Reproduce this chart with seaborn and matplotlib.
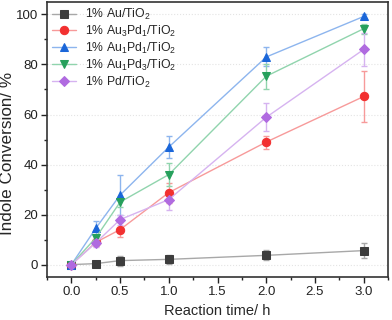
import matplotlib
matplotlib.use('Agg')
import matplotlib.pyplot as plt
from matplotlib.ticker import MultipleLocator
import pandas as pd
import seaborn as sns

# reaction time (h)
time = [0, 0.25, 0.5, 1.0, 2.0, 3.0]

labels = ['1% Au/TiO$_2$', '1% Au$_3$Pd$_1$/TiO$_2$', '1% Au$_1$Pd$_1$/TiO$_2$',
          '1% Au$_1$Pd$_3$/TiO$_2$', '1% Pd/TiO$_2$']

au = [0, 0.4, 1.6, 2.1, 3.7, 5.6]
au3pd1 = [0, 8.9, 14.0, 28.8, 49.0, 67.2]
au1pd1 = [0, 14.5, 27.8, 47.0, 83.0, 99.2]
au1pd3 = [0, 10.7, 25.0, 36.0, 75.3, 94.3]
pd_ = [0, 8.7, 18.0, 26.0, 58.9, 86.0]

au_err = [0.5, 0.8, 2.0, 1.8, 2.0, 3.0]
au3pd1_err = [0.5, 1.5, 3.0, 4.0, 2.6, 10.0]
au1pd1_err = [0.5, 3.0, 8.0, 4.5, 3.8, 1.0]
au1pd3_err = [0.5, 1.5, 2.0, 4.5, 5.0, 2.0]
pd_err = [0.5, 1.5, 2.0, 4.0, 5.5, 6.5]

values = [au, au3pd1, au1pd1, au1pd3, pd_]
errors = [au_err, au3pd1_err, au1pd1_err, au1pd3_err, pd_err]

marker_colors = ['#3d3d3d', '#f23030', '#1a66d9', '#26a05c', '#b06be0']
line_colors = ['#a8a8a8', '#f79a9a', '#8db5ee', '#90d4ad', '#d6b3f0']
markers = ['s', 'o', '^', 'v', 'D']

rows = []
for lab, v, e in zip(labels, values, errors):
    for t, y, err in zip(time, v, e):
        rows.append({'time': t, 'conv': y, 'err': err, 'sample': lab})
df = pd.DataFrame(rows)

sns.set_style('ticks')
plt.rcParams['font.family'] = ['Liberation Sans', 'DejaVu Sans']
plt.rcParams['mathtext.fontset'] = 'custom'
plt.rcParams['mathtext.rm'] = 'Liberation Sans'
plt.rcParams['mathtext.it'] = 'Liberation Sans'

fig, ax = plt.subplots(figsize=(3.92, 3.2), dpi=100)
fig.subplots_adjust(left=0.12, right=0.99, top=0.994, bottom=0.134)

for i, lab in enumerate(labels):
    d = df[df['sample'] == lab]
    ax.errorbar(d['time'], d['conv'], yerr=d['err'], fmt='none',
                ecolor=line_colors[i], elinewidth=1, capsize=2.5, capthick=1, zorder=2)
    sns.lineplot(data=d, x='time', y='conv', ax=ax, color=line_colors[i], lw=1,
                 marker=markers[i], markersize=6 if markers[i] != 'D' else 5,
                 markerfacecolor=marker_colors[i], markeredgecolor=marker_colors[i],
                 label=lab, zorder=3)

ax.set_xlim(-0.25, 3.25)
ax.set_ylim(-5, 105)
ax.xaxis.set_major_locator(MultipleLocator(0.5))
ax.xaxis.set_minor_locator(MultipleLocator(0.25))
ax.yaxis.set_major_locator(MultipleLocator(20))
ax.yaxis.set_minor_locator(MultipleLocator(10))
ax.tick_params(which='major', direction='out', length=4.5, width=1, labelsize=9.5,
               colors='#222222', pad=2)
ax.tick_params(which='minor', direction='out', length=2.5, width=1)
ax.yaxis.grid(True, which='major', linestyle=':', color='#e4e4e4', lw=0.8)
ax.set_axisbelow(True)
for s in ax.spines.values():
    s.set_linewidth(1.2)
    s.set_color('#333333')

ax.set_xlabel('Reaction time/ h', fontsize=10.5)
ax.set_ylabel('Indole Conversion/ %', fontsize=12.3)
ax.yaxis.set_label_coords(-0.094, 0.45)

ax.legend(loc='upper left', frameon=False, fontsize=8.8, handlelength=2.0,
          handletextpad=0.7, labelspacing=0.15, borderaxespad=0.1, borderpad=0.3)

plt.savefig('out.png', dpi=100)
